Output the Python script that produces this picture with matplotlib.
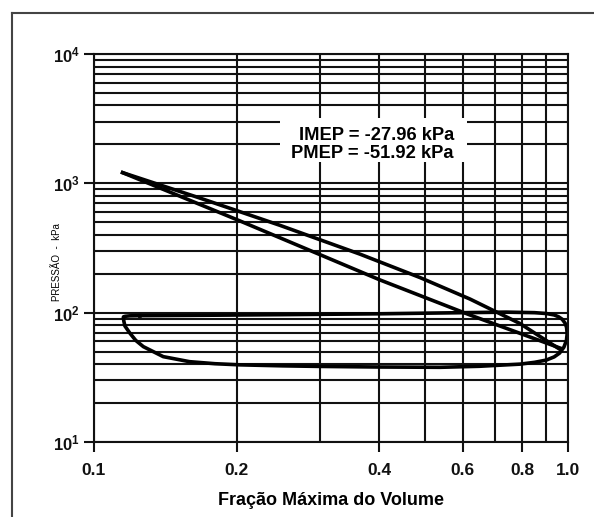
import numpy as np
import matplotlib
matplotlib.use("Agg")
from matplotlib import pyplot as plt
from matplotlib.lines import Line2D
from matplotlib.patches import Rectangle
from matplotlib.ticker import FixedLocator, NullFormatter

plt.rcParams['font.family'] = ['Liberation Sans', 'DejaVu Sans']
plt.rcParams['mathtext.fontset'] = 'custom'
plt.rcParams['mathtext.rm'] = 'Liberation Sans:bold'
plt.rcParams['mathtext.bf'] = 'Liberation Sans:bold'

#   Pumping loop (exhaust on top, intake below)
loop_v = [0.125, 0.119, 0.1165, 0.1155, 0.1153, 0.1156, 0.1162, 0.1191, 0.1225,
          0.1271, 0.140, 0.159, 0.18, 0.203, 0.25, 0.3, 0.4, 0.537, 0.65,
          0.792, 0.85, 0.90, 0.935, 0.96, 0.98, 0.9925, 0.996, 0.993, 0.986,
          0.972, 0.955, 0.935, 0.90, 0.85, 0.74, 0.6, 0.4, 0.25, 0.16, 0.125]
loop_p = [94.8, 94.5, 93.8, 93.0, 92.1, 86.0, 78.9, 69.3, 61.0,
          54.6, 45.7, 41.8, 40.3, 39.5, 38.8, 38.4, 38.0, 37.8, 38.5,
          40.0, 41.3, 43.0, 45.5, 48.7, 54.0, 61.0, 69.0, 77.0, 83.0,
          89.0, 93.0, 96.0, 98.5, 100.0, 101.0, 100.0, 98.0, 96.5, 95.3, 94.8]

#   Compression and expansion strokes
upper_v = [0.1149, 0.1674, 0.2468, 0.3640, 0.4873, 0.6213, 0.792, 0.9618]
upper_p = [1210.0, 768.6, 473.4, 283.5, 186.8, 127.4, 82.4, 52.0]
lower_v = [0.1149, 0.2032, 0.4013, 0.6213, 0.9618]
lower_p = [1210.0, 512.0, 179.0, 95.9, 53.3]

xticks = [0.1, 0.2, 0.4, 0.6, 0.8, 1.0]
xtick_labels = ['0.1', '0.2', '0.4', '0.6', '0.8', '1.0']
yticks = [10, 100, 1000, 10000]
ytick_labels = [r'$\mathbf{10^{1}}$', r'$\mathbf{10^{2}}$', r'$\mathbf{10^{3}}$', r'$\mathbf{10^{4}}$']

fig = plt.figure(figsize=(5.94, 5.17), dpi=100)
ax = fig.add_axes([94/594, 1 - 442/517, 474/594, 388/517])

ax.set_xscale('log')
ax.set_yscale('log')
ax.set_xlim(0.1, 1.0)
ax.set_ylim(10, 10000)

#   grid lines
xminor = [0.3, 0.5, 0.7, 0.9]
yminor = [m * d for d in (10, 100, 1000) for m in range(2, 10)]
ax.xaxis.set_minor_locator(FixedLocator(xminor))
ax.yaxis.set_minor_locator(FixedLocator(yminor))
ax.xaxis.set_minor_formatter(NullFormatter())
ax.yaxis.set_minor_formatter(NullFormatter())
ax.set_xticks(xticks)
ax.set_xticklabels(xtick_labels)
ax.set_yticks(yticks)
ax.set_yticklabels(ytick_labels)
ax.grid(True, which='both', color='#111111', linewidth=1.5)
ax.set_axisbelow(True)
ax.tick_params(which='minor', length=0)
ax.tick_params(which='major', direction='out', length=7, width=1.5, colors='#111111',
               labelsize=12.5)
ax.tick_params(axis='x', pad=8)
ax.tick_params(axis='y', labelsize=12, pad=3)
for lab in ax.get_xticklabels():
    lab.set_fontweight('bold')
for s in ax.spines.values():
    s.set_linewidth(1.5)
    s.set_color('#111111')

ax.plot(loop_v, loop_p, color='black', lw=2.6, solid_joinstyle='round')
ax.plot(upper_v, upper_p, color='black', lw=2.6, solid_joinstyle='round')
ax.plot(lower_v, lower_p, color='black', lw=2.6, solid_joinstyle='round')

#   label box
ax.add_patch(Rectangle((0.392, 0.722), 0.395, 0.113, transform=ax.transAxes,
                       facecolor='white', edgecolor='none', zorder=3))
ax.text(0.759, 0.767, 'IMEP = -27.96 kPa\nPMEP = -51.92 kPa', transform=ax.transAxes,
        ha='right', va='center', multialignment='right', fontsize=13.2,
        fontweight='bold', linespacing=1.1, zorder=4)

ax.set_xlabel('Fração Máxima do Volume', fontsize=13, fontweight='bold', labelpad=10)
ax.set_ylabel('PRESSÃO  -  kPa', fontsize=7)
ax.yaxis.set_label_coords(-0.068, 0.465)

#   outer frame
fig.add_artist(Line2D([12/594, 12/594], [0, 1 - 13/517], color='#444444', lw=1.5))
fig.add_artist(Line2D([12/594, 1], [1 - 13/517, 1 - 13/517], color='#444444', lw=1.5))

fig.savefig('out.png', dpi=100)
